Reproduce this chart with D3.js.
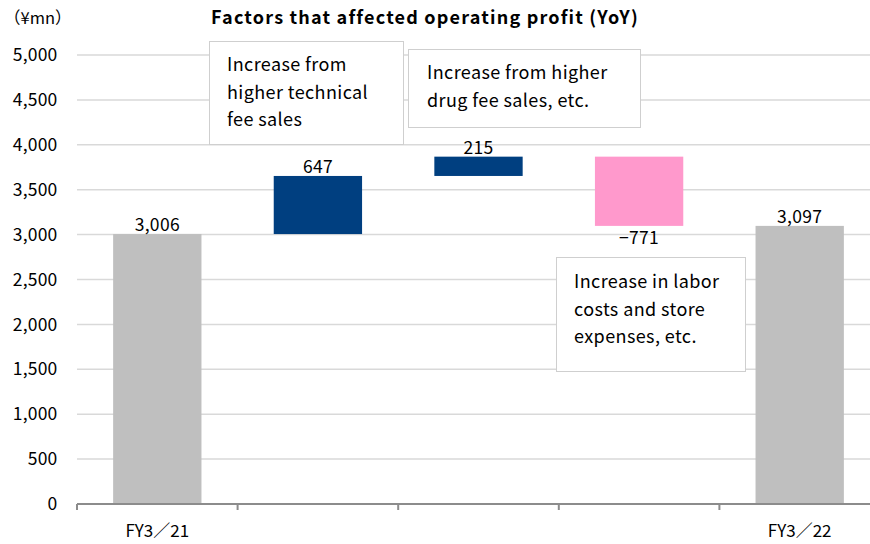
<!DOCTYPE html>
<html><head><meta charset="utf-8">
<script src="https://cdn.jsdelivr.net/npm/d3@7"></script>
<style>body{margin:0;background:#fff}svg{display:block}</style>
</head><body>
<script>
const categories = ["FY3／21", "", "", "", "FY3／22"];
const values = [3006, 647, 215, -771, 3097];
const kinds = ["total", "up", "up", "down", "total"];
const valueLabels = ["3,006", "647", "215", "\u2212771", "3,097"];
const yTicks = [0, 500, 1000, 1500, 2000, 2500, 3000, 3500, 4000, 4500, 5000];
const notes = [
  {bar: 1, lines: ["Increase from", "higher technical", "fee sales"]},
  {bar: 2, lines: ["Increase from higher", "drug fee sales, etc."]},
  {bar: 3, lines: ["Increase in labor", "costs and store", "expenses, etc."]}
];
const title = "Factors that affected operating profit (YoY)";
const unit = "（¥mn）";

const W = 870, H = 544;
const font = "'Noto Sans CJK JP', 'Noto Sans', sans-serif";
const colors = {total: "#bfbfbf", up: "#003f80", down: "#ff99cc"};

// waterfall ranges
let run = 0;
const bars = values.map((v, i) => {
  let lo, hi;
  if (kinds[i] === "total") { lo = 0; hi = v; run = v; }
  else { const s = run; run = s + v; lo = Math.min(s, run); hi = Math.max(s, run); }
  return {i, v, lo, hi, kind: kinds[i], label: valueLabels[i], cat: categories[i]};
});

const svg = d3.select("body").append("svg").attr("width", W).attr("height", H)
  .style("font-family", font);

const x = d3.scaleBand().domain(d3.range(categories.length)).range([77, 880])
  .paddingInner(0.45).paddingOuter(0.225);
const y = d3.scaleLinear().domain([0, 5000]).range([504, 55]);

// gridlines
svg.append("g").selectAll("line").data(yTicks.filter(d => d > 0)).join("line")
  .attr("x1", 77).attr("x2", 880).attr("y1", d => y(d)).attr("y2", d => y(d))
  .attr("stroke", "#d9d9d9").attr("stroke-width", 1.5);

// y axis labels
const yAxis = d3.axisLeft(y).tickValues(yTicks).tickFormat(d3.format(",")).tickSize(0).tickPadding(0);
const ya = svg.append("g").attr("transform", "translate(57.5,0)").call(yAxis);
ya.select(".domain").remove();
ya.selectAll("text").attr("font-size", 17.5).attr("font-family", font).attr("fill", "#000")
  .attr("letter-spacing", 0.2);

// bars
svg.append("g").selectAll("rect").data(bars).join("rect")
  .attr("x", d => x(d.i)).attr("width", x.bandwidth())
  .attr("y", d => y(d.hi)).attr("height", d => y(d.lo) - y(d.hi))
  .attr("fill", d => colors[d.kind]);

// value labels
svg.append("g").selectAll("text").data(bars).join("text")
  .attr("x", d => x(d.i) + x.bandwidth() / 2)
  .attr("y", d => d.kind === "down" ? y(d.lo) + 18 : y(d.hi) - 3)
  .attr("text-anchor", "middle").attr("font-size", 17.5).attr("fill", "#000")
  .attr("letter-spacing", 0.3)
  .text(d => d.label);

// x axis
const edges = d3.range(categories.length + 1).map(k => 77 + k * x.step());
const xa = svg.append("g");
xa.append("line").attr("x1", 77).attr("x2", 880).attr("y1", 504).attr("y2", 504)
  .attr("stroke", "#8c8c8c").attr("stroke-width", 2);
xa.selectAll("line.t").data(edges).join("line").attr("class", "t")
  .attr("x1", d => d).attr("x2", d => d).attr("y1", 504).attr("y2", 510)
  .attr("stroke", "#8c8c8c").attr("stroke-width", 2);
xa.selectAll("text").data(bars).join("text")
  .attr("x", d => x(d.i) + x.bandwidth() / 2).attr("y", 537)
  .attr("text-anchor", "middle").attr("font-size", 17).attr("fill", "#000")
  .text(d => d.cat);

// notes
const boxes = [
  {x: 209, y: 41, w: 194, h: 103, tx: 227, ty: 71},
  {x: 408, y: 49, w: 232, h: 78, tx: 427, ty: 79},
  {x: 556, y: 257, w: 189, h: 114, tx: 574, ty: 288}
];
notes.forEach((n, k) => {
  const b = boxes[k];
  const g = svg.append("g");
  g.append("rect").attr("x", b.x + 0.5).attr("y", b.y + 0.5).attr("width", b.w).attr("height", b.h)
    .attr("fill", "#fff").attr("stroke", "#cfcfcf").attr("stroke-width", 1);
  g.selectAll("text").data(n.lines).join("text")
    .attr("x", b.tx).attr("y", (d, j) => b.ty + j * 27.5)
    .attr("font-size", 18).attr("letter-spacing", 0.4).attr("fill", "#000").text(d => d);
});

// title & unit
svg.append("text").attr("x", 425).attr("y", 24).attr("text-anchor", "middle")
  .attr("font-size", 18).attr("font-weight", "bold").attr("letter-spacing", 1.2)
  .attr("fill", "#000").text(title);
svg.append("text").attr("x", 4).attr("y", 24).attr("font-size", 16.5).attr("fill", "#000").text(unit);
</script>
</body></html>
